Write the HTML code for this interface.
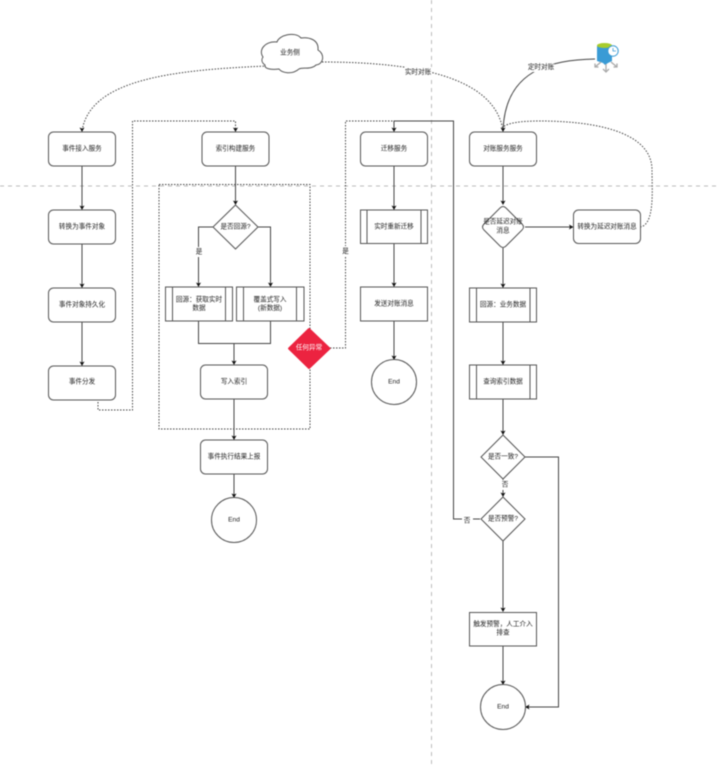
<!DOCTYPE html>
<html><head><meta charset="utf-8">
<style>
html,body{margin:0;padding:0;background:#fff;width:720px;height:767px;overflow:hidden}
svg{display:block;filter:blur(.4px)}
text{font-family:"Liberation Sans","Noto Sans CJK SC",sans-serif;font-size:6.600px;fill:#222;text-anchor:middle;dominant-baseline:central}
.b{fill:#fff;stroke:#555;stroke-width:1}
.l{fill:none;stroke:#444;stroke-width:1}
.d{fill:none;stroke:#444;stroke-width:1;stroke-dasharray:1.500 1.500}
.g{fill:none;stroke:#bbb;stroke-width:1;stroke-dasharray:4 4}
.a{fill:#111;stroke:none}
.lb{fill:#fff;stroke:none}
</style></head><body>
<svg width="720" height="767" viewBox="0 0 720 767" xmlns="http://www.w3.org/2000/svg">
<defs>
<path id="ad" class="a" d="M-2.500 -4.500 L0 -3.500 L2.500 -4.500 L0 0 Z"/>
</defs>
<path class="g" d="M431.500 0V767M0 186H720"/>

<!-- connectors -->
<path class="l" d="M82 166V209M82 244V287M82 322V365"/>
<path class="l" d="M235.500 166V204M213 227H198.500V286M258 227H270.500V286"/>
<path class="l" d="M198.500 321V343.500H270.500V321M234 343.500V364M234 399V439M234 474V497"/>
<path class="l" d="M394 166V209M394 243V286M394 321V359"/>
<path class="l" d="M503 166V204M503 248V287M503 322V364M503 399V434M503 479V496M503 541V611M503 646V684M525 227H572M525 457H558.500V707H526"/>
<path class="l" d="M480 519H453.500V121H394V131"/>
<path class="l" d="M595 59C550 60 505 70 503 131"/>

<path class="d" d="M82 400H98V410H132.500V121H235.500V131"/>
<path class="d" d="M159 184.500H310V429H159Z"/>
<path class="d" d="M330 348H345.500V121H394"/>
<path class="d" d="M267 66C170 70 90 80 82 131"/>
<path class="d" d="M322 62C410 62 495 75 503 131"/>
<path class="d" d="M640 227C655 225 652 190 652 170C652 130 590 121 540 121C520 121 508 123 503 127"/>

<!-- arrowheads -->
<use href="#ad" x="82" y="132"/><use href="#ad" x="82" y="210"/><use href="#ad" x="82" y="288"/><use href="#ad" x="82" y="366"/>
<use href="#ad" x="235.500" y="132"/><use href="#ad" x="235.500" y="205"/><use href="#ad" x="198.500" y="287"/><use href="#ad" x="270.500" y="287"/>
<use href="#ad" x="234" y="365"/><use href="#ad" x="234" y="440"/><use href="#ad" x="234" y="498"/>
<use href="#ad" x="394" y="132"/><use href="#ad" x="394" y="210"/><use href="#ad" x="394" y="287"/><use href="#ad" x="394" y="360"/>
<use href="#ad" x="503" y="132"/><use href="#ad" x="503" y="205"/><use href="#ad" x="503" y="288"/><use href="#ad" x="503" y="365"/>
<use href="#ad" x="503" y="435"/><use href="#ad" x="503" y="497"/><use href="#ad" x="503" y="612"/><use href="#ad" x="503" y="685"/>
<path class="a" d="M573.500 227L569 224.500L570 227L569 229.500Z"/>
<path class="a" d="M525 707L529.500 704.500L528.500 707L529.500 709.500Z"/>

<!-- column 1 -->
<rect class="b" x="48.500" y="132" width="67" height="34" rx="5"/><text x="82" y="149">事件接入服务</text>
<rect class="b" x="48.500" y="210" width="67" height="34" rx="5"/><text x="82" y="227">转换为事件对象</text>
<rect class="b" x="48.500" y="288" width="67" height="34" rx="5"/><text x="82" y="305">事件对象持久化</text>
<rect class="b" x="48.500" y="366" width="67" height="34" rx="5"/><text x="82" y="382">事件分发</text>

<!-- column 2 -->
<rect class="b" x="202" y="132" width="67" height="34" rx="5"/><text x="235.500" y="149">索引构建服务</text>
<path class="b" d="M235.500 205L258 227L235.500 249L213 227Z"/><text x="235.500" y="227">是否回源?</text>
<rect class="lb" x="194" y="247" width="9" height="10"/><text x="199" y="252">是</text>
<path class="b" d="M165.500 287H232.500V321H165.500ZM172.500 287V321M225.500 287V321"/>
<text x="199" y="300">回源：获取实时</text><text x="199" y="308.500">数据</text>
<path class="b" d="M236.500 287H304V321H236.500ZM243.500 287V321M296.500 287V321"/>
<text x="270" y="300">覆盖式写入</text><text x="270" y="308.500">(新数据)</text>
<rect class="b" x="200.500" y="365" width="67" height="34" rx="5"/><text x="234" y="382">写入索引</text>
<rect class="b" x="200.500" y="440" width="67" height="34" rx="5"/><text x="234" y="457">事件执行结果上报</text>
<circle class="b" cx="234" cy="520" r="22.500"/><text x="234" y="520">End</text>

<!-- red diamond -->
<path d="M309 329L329.500 348.500L309 368L289 348.500Z" fill="#ec2340" stroke="#ec2340" stroke-width="2" stroke-linejoin="round"/>
<text x="309" y="348" style="fill:#fff">任何异常</text>
<rect class="lb" x="341" y="246" width="9" height="10"/><text x="345.500" y="251.500">是</text>

<!-- column 3 -->
<rect class="b" x="360.500" y="132" width="67" height="34" rx="5"/><text x="394" y="149">迁移服务</text>
<path class="b" d="M360.500 210H427.500V243.500H360.500ZM367 210V243.500M421 210V243.500"/><text x="394" y="227">实时重新迁移</text>
<rect class="b" x="360.500" y="287" width="67" height="34"/><text x="394" y="304">发送对账消息</text>
<circle class="b" cx="394" cy="382" r="22.500"/><text x="394" y="382">End</text>

<!-- column 4 -->
<rect class="b" x="469.500" y="132" width="67" height="34" rx="5"/><text x="503" y="149">对账服务服务</text>
<path class="b" d="M500 208Q503 205 506 208L522 224Q525 227 522 230L506 246Q503 249 500 246L484 230Q481 227 484 224Z"/>
<text x="503" y="222">是否延迟对账</text><text x="503" y="231">消息</text>
<rect class="b" x="573.500" y="210" width="67" height="33.500" rx="5"/><text x="607" y="227">转换为延迟对账消息</text>
<path class="b" d="M469.500 288H536.500V322H469.500ZM476.500 288V322M530 288V322"/><text x="503" y="305">回源：业务数据</text>
<path class="b" d="M469.500 365H536.500V399H469.500ZM476.500 365V399M530 365V399"/><text x="503" y="382">查询索引数据</text>
<path class="b" d="M503 435L525 457L503 479L481 457Z"/><text x="503" y="457">是否一致?</text>
<rect class="lb" x="500" y="480" width="9" height="10"/><text x="505" y="485">否</text>
<path class="b" d="M503 497L525 519L503 541L481 519Z"/><text x="503" y="519">是否预警?</text>
<rect class="lb" x="462" y="516" width="11" height="10"/><text x="467" y="521">否</text>
<rect class="b" x="469.500" y="612.500" width="67" height="33.500"/>
<text x="503" y="624.500">触发预警，人工介入</text><text x="503" y="633">排查</text>
<circle class="b" cx="503" cy="707" r="22.500"/><text x="503" y="707">End</text>

<!-- cloud -->
<path class="b" d="M263 57C258 50 265 41 277 42C279 35 295 31 301 38C308 37 319 39 318 50C325 54 324 64 316 65C311 70 302 67 299 69C292 75 282 73 279 69C272 70 264 69 265 65C262 63 261 60 263 57Z"/>
<text x="290" y="53">业务侧</text>
<rect class="lb" x="405" y="67" width="27" height="10"/><text x="418" y="72.500">实时对账</text>
<rect class="lb" x="528" y="62" width="26" height="10"/><text x="541" y="67.500">定时对账</text>

<!-- icon -->
<path d="M597 46V61L603 63L605 65L608 63L612 61V46Z" fill="#3a9bd5"/>
<ellipse cx="604.500" cy="45.500" rx="7.500" ry="2.500" fill="#a8cc2c"/>
<circle cx="613" cy="51" r="5.200" fill="#fff" stroke="#3a9bd5" stroke-width="1"/>
<path d="M613 48V51H616" fill="none" stroke="#3a9bd5" stroke-width=".8"/>
<path d="M601 62L595 67M595 63.500V67H598.500M611 62L617 67M617 63.500V67H613.500M606 64V72M603 69L606 72L609 69" fill="none" stroke="#aaa" stroke-width="1.300"/>
</svg>
</body></html>
